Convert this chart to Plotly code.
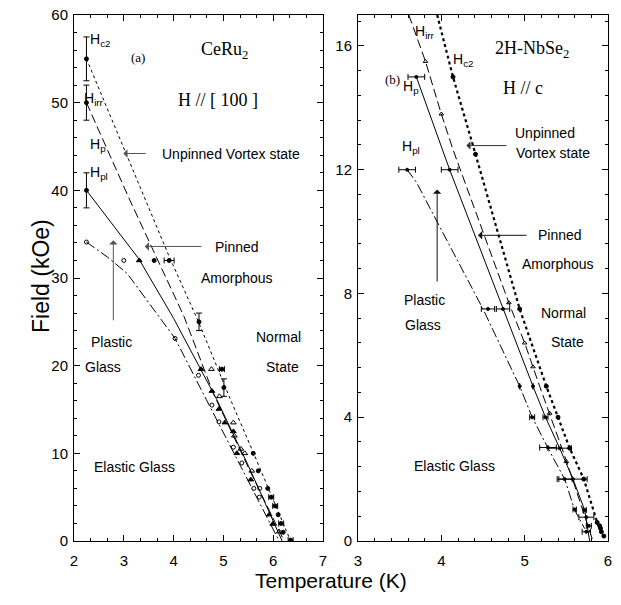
import plotly.graph_objects as go

# ---------------- Panel (a) CeRu2 ----------------
a_hc2_line_T = [2.25, 3.10, 3.90, 4.50, 5.13, 5.60, 6.00, 6.35]
a_hc2_line_H = [55.0, 43.4, 32.6, 25.0, 16.3, 10.1, 4.8, 0.0]
a_irr_line_T = [2.25, 3.12, 4.21, 4.80, 5.50, 6.22]
a_irr_line_H = [50.0, 38.9, 25.6, 16.8, 8.4, 0.0]
a_p_line_T = [2.25, 3.30, 4.00, 4.53, 4.87, 5.50, 6.18]
a_p_line_H = [40.0, 32.2, 25.4, 19.7, 16.1, 8.6, 0.0]
a_pl_line_T = [2.25, 2.67, 3.07, 3.77, 4.03, 4.66, 5.40, 6.12]
a_pl_line_H = [34.1, 32.4, 30.5, 25.2, 23.1, 16.1, 8.0, 0.0]

a_hc2_T = [3.61, 5.60, 5.70, 5.89, 6.10, 6.20]
a_hc2_H = [32.0, 10.0, 8.0, 6.0, 3.0, 1.0]
a_hc2_yerr_T = [2.25, 4.51, 5.01, 2.25, 2.25]
a_hc2_yerr_H = [55.0, 25.0, 17.5, 50.0, 40.0]
a_hc2_yerr = [2.5, 1.0, 1.0, 2.0, 2.0]
a_hc2_xerr_T = [3.91, 4.97, 5.96, 6.04, 6.16, 6.35]
a_hc2_xerr_H = [32.0, 19.6, 5.0, 4.0, 2.0, 0.1]
a_hc2_xerr = [0.1, 0.05, 0.05, 0.05, 0.05, 0.05]
a_otri_T = [4.76, 4.92, 5.20, 5.22, 5.35, 5.43, 5.57, 6.12]
a_otri_H = [19.6, 16.5, 13.5, 12.0, 10.5, 10.0, 8.0, 1.06]
a_ftri_T = [3.31, 4.55, 4.77, 4.91, 5.03, 5.20, 5.27, 5.55, 5.92, 5.99]
a_ftri_H = [32.0, 19.6, 17.1, 15.05, 13.5, 12.5, 10.0, 7.0, 3.0, 1.94]
a_ocirc_T = [2.25, 3.00, 4.03, 4.50, 4.77, 4.91, 5.20, 5.37, 5.61, 5.73, 5.72]
a_ocirc_H = [34.1, 32.0, 23.1, 18.9, 15.5, 13.6, 10.7, 8.9, 6.0, 6.0, 5.0]

# ---------------- Panel (b) 2H-NbSe2 ----------------
b_hc2_line_T = [3.95, 4.14, 4.41, 4.94, 5.26, 5.40, 5.54, 5.71, 5.87, 5.95]
b_hc2_line_H = [17.0, 15.0, 12.5, 7.5, 5.0, 4.0, 3.0, 2.0, 0.6, 0.15]
b_hc2_T = [4.14, 4.41, 4.94, 5.26, 5.40, 5.54, 5.71, 5.87, 5.90, 5.91, 5.92, 5.95]
b_hc2_H = [15.0, 12.5, 7.5, 5.0, 4.0, 3.0, 2.0, 0.6, 0.49, 0.41, 0.30, 0.16]
b_irr_line_T = [3.61, 3.81, 4.00, 4.14, 4.81, 5.00, 5.18, 5.30, 5.50, 5.82]
b_irr_line_H = [17.0, 15.5, 13.8, 12.65, 7.7, 6.4, 5.0, 4.1, 2.6, 0.0]
b_irr_T = [3.81, 4.00, 4.81, 5.00, 5.10, 5.30, 5.50]
b_irr_H = [15.5, 13.8, 7.7, 6.4, 5.63, 4.13, 2.57]
b_p_line_T = [3.70, 4.10, 5.10, 5.25, 5.42, 5.58, 5.72, 5.78]
b_p_line_H = [15.0, 12.0, 5.0, 4.0, 3.0, 2.0, 1.0, 0.0]
b_p_T = [3.70, 4.10, 4.74, 5.10, 5.25, 5.42, 5.58, 5.72]
b_p_H = [15.0, 12.0, 7.5, 5.0, 4.0, 3.0, 2.0, 1.0]
b_p_xerr = [0.10, 0.10, 0.08, 0.0, 0.03, 0.14, 0.17, 0.02]
b_pl_line_T = [3.59, 3.70, 3.98, 4.50, 4.94, 5.09, 5.28, 5.48, 5.60, 5.72]
b_pl_line_H = [12.0, 11.6, 10.16, 7.5, 5.0, 4.0, 3.0, 2.0, 1.0, 0.4]
b_pl_T = [3.59, 4.56, 4.94, 5.09, 5.28, 5.48, 5.60, 5.74, 5.77, 5.74]
b_pl_H = [12.0, 7.5, 5.0, 4.0, 3.02, 2.0, 1.02, 0.77, 0.49, 0.30]
b_pl_xerr = [0.10, 0.08, 0.0, 0.03, 0.10, 0.09, 0.02, 0.09, 0.03, 0.05]

a_xticks = [2, 3, 4, 5, 6, 7]
a_yticks = [0, 10, 20, 30, 40, 50, 60]
b_xticks = [3, 4, 5, 6]
b_yticks = [0, 4, 8, 12, 16]

K = "black"
W, H = 621, 605
fig = go.Figure()

def line(x, y, dash, xa, ya, width=1.0, color=K):
    fig.add_trace(go.Scatter(x=x, y=y, mode="lines", xaxis=xa, yaxis=ya,
                             line=dict(color=color, width=width, dash=dash),
                             showlegend=False, hoverinfo="skip"))

def marks(x, y, sym, size, xa, ya, ex=None, ey=None):
    kw = {}
    if ex is not None:
        kw["error_x"] = dict(type="data", array=ex, visible=True, color=K, thickness=1, width=3)
    if ey is not None:
        kw["error_y"] = dict(type="data", array=ey, visible=True, color=K, thickness=1, width=3)
    fig.add_trace(go.Scatter(x=x, y=y, mode="markers", xaxis=xa, yaxis=ya,
                             marker=dict(symbol=sym, size=size, color=K,
                                         line=dict(color=K, width=1)),
                             showlegend=False, hoverinfo="skip", **kw))

# panel a lines
line(a_hc2_line_T, a_hc2_line_H, "dot", "x", "y", 1.0)
line(a_irr_line_T, a_irr_line_H, "9px,4px", "x", "y")
line(a_p_line_T, a_p_line_H, "solid", "x", "y")
line(a_pl_line_T, a_pl_line_H, "10px,3px,2px,3px", "x", "y")
# panel a markers
marks(a_hc2_T, a_hc2_H, "circle", 4, "x", "y")
marks(a_hc2_yerr_T, a_hc2_yerr_H, "circle", 4, "x", "y", ey=a_hc2_yerr)
marks(a_hc2_xerr_T, a_hc2_xerr_H, "circle", 4, "x", "y", ex=a_hc2_xerr)
marks(a_otri_T, a_otri_H, "triangle-up-open", 5, "x", "y")
marks(a_ftri_T, a_ftri_H, "triangle-up", 5, "x", "y")
marks(a_ocirc_T, a_ocirc_H, "circle-open", 4, "x", "y")

# panel b lines
line(b_hc2_line_T, b_hc2_line_H, "dot", "x2", "y2", 2.2)
line(b_irr_line_T, b_irr_line_H, "9px,4px", "x2", "y2")
line(b_p_line_T, b_p_line_H, "solid", "x2", "y2")
line(b_pl_line_T, b_pl_line_H, "10px,3px,2px,3px", "x2", "y2")
# panel b markers
marks(b_hc2_T, b_hc2_H, "circle", 4, "x2", "y2")
marks(b_irr_T, b_irr_H, "triangle-up-open", 4, "x2", "y2")
marks(b_p_T, b_p_H, "circle", 3, "x2", "y2", ex=b_p_xerr)
marks(b_pl_T, b_pl_H, "circle", 3, "x2", "y2", ex=b_pl_xerr)

TF = "Liberation Sans, Arial, sans-serif"
SF = "Liberation Serif, Times New Roman, serif"

def px_x(a, b):
    return [a / W, b / W]

def px_y(top, bottom):
    return [1 - bottom / H, 1 - top / H]

def ax_common(rng, tickvals, minor_dtick, domain, anchor, standoff):
    return dict(range=rng, domain=domain, anchor=anchor, tickvals=tickvals,
                ticks="inside", ticklen=6, tickwidth=1, tickcolor=K,
                showline=True, linecolor=K, linewidth=1, mirror="allticks",
                showgrid=False, zeroline=False, automargin=False,
                ticklabelstandoff=standoff, ticklabeloverflow="allow",
                tickfont=dict(family=TF, size=15, color=K),
                minor=dict(dtick=minor_dtick, ticks="inside", ticklen=3, tickcolor=K, showgrid=False))

fig.update_layout(
    template="none",
    width=W, height=H, margin=dict(l=0, r=0, t=0, b=0, pad=0, autoexpand=False),
    paper_bgcolor="white", plot_bgcolor="white", showlegend=False,
    xaxis=ax_common([2, 7], a_xticks, 1/3, px_x(74, 323), "y", 6),
    yaxis=ax_common([0, 60], a_yticks, 2, px_y(15, 541), "x", 2),
    xaxis2=ax_common([3, 6], b_xticks, 0.2, px_x(358, 608), "y2", 6),
    yaxis2=ax_common([0, 17], b_yticks, 0.8, px_y(15, 541), "x2", 2),
)

ann = []
def txt(x, y, s, xa, ya, font=TF, size=14, xanchor="center"):
    ann.append(dict(x=x, y=y, xref=xa, yref=ya, text=s, showarrow=False,
                    xanchor=xanchor, yanchor="middle",
                    font=dict(family=font, size=size, color=K)))

def arrow(x0, y0, x1, y1, xa, ya, color="#222222"):
    ann.append(dict(x=x1, y=y1, ax=x0, ay=y0, xref=xa, yref=ya, axref=xa, ayref=ya,
                    text="", showarrow=True, arrowhead=1, arrowsize=1.4,
                    arrowwidth=1, arrowcolor=color))

# panel a texts
txt(2.28, 57.1, "H<sub>c2</sub>", "x", "y", xanchor="left")
txt(3.29, 55.1, "(a)", "x", "y", font=SF, size=13)
txt(5.03, 56.0, "CeRu<sub>2</sub>", "x", "y", font=SF, size=18)
txt(4.89, 50.3, "H // [ 100 ]", "x", "y", font=SF, size=18)
txt(2.17, 50.4, "H<sub>irr</sub>", "x", "y", xanchor="left")
txt(2.29, 45.2, "H<sub>p</sub>", "x", "y", xanchor="left")
txt(3.73, 44.2, "Unpinned Vortex state", "x", "y", xanchor="left")
txt(2.28, 42.0, "H<sub>pl</sub>", "x", "y", xanchor="left")
txt(5.27, 33.5, "Pinned", "x", "y")
txt(5.27, 30.0, "Amorphous", "x", "y")
txt(2.76, 22.7, "Plastic", "x", "y")
txt(2.58, 19.8, "Glass", "x", "y")
txt(6.10, 23.3, "Normal", "x", "y")
txt(6.18, 19.8, "State", "x", "y")
txt(3.22, 8.4, "Elastic Glass", "x", "y")
arrow(3.47, 44.2, 2.99, 44.2, "x", "y", "#555555")
arrow(4.59, 33.6, 3.42, 33.6, "x", "y", "#555555")
arrow(2.79, 25.0, 2.79, 34.3, "x", "y", "#555555")

# panel b texts
txt(3.66, 16.45, "H<sub>irr</sub>", "x2", "y2", xanchor="left")
txt(5.09, 15.87, "2H-NbSe<sub>2</sub>", "x2", "y2", font=SF, size=18)
txt(4.12, 15.55, "H<sub>c2</sub>", "x2", "y2", xanchor="left")
txt(3.41, 14.93, "(b)", "x2", "y2", font=SF, size=13)
txt(3.52, 14.67, "H<sub>p</sub>", "x2", "y2", xanchor="left")
txt(4.98, 14.64, "H // c", "x2", "y2", font=SF, size=18)
txt(3.50, 12.73, "H<sub>pl</sub>", "x2", "y2", xanchor="left")
txt(5.24, 13.19, "Unpinned", "x2", "y2")
txt(5.34, 12.54, "Vortex state", "x2", "y2")
txt(5.42, 9.89, "Pinned", "x2", "y2")
txt(5.40, 8.95, "Amorphous", "x2", "y2")
txt(3.80, 7.79, "Plastic", "x2", "y2")
txt(3.78, 6.98, "Glass", "x2", "y2")
txt(5.46, 7.37, "Normal", "x2", "y2")
txt(5.51, 6.43, "State", "x2", "y2")
txt(4.16, 2.42, "Elastic Glass", "x2", "y2")
arrow(4.80, 12.78, 4.30, 12.78, "x2", "y2", "#333333")
arrow(5.04, 9.88, 4.44, 9.88, "x2", "y2", "#111111")
arrow(3.95, 8.34, 3.95, 11.36, "x2", "y2", "#111111")

# axis titles
ann.append(dict(x=26 / W, y=1 - 276 / H, xref="paper", yref="paper",
                text="Field (kOe)", showarrow=False, textangle=-90,
                font=dict(family=TF, size=23, color=K)))
ann.append(dict(x=331 / W, y=1 - 594 / H, xref="paper", yref="paper",
                text="Temperature (K)", showarrow=False,
                font=dict(family=TF, size=21, color=K)))

fig.update_layout(annotations=ann)
fig.write_html("out.html", config={"displayModeBar": False},
               post_script="document.body.style.margin='0';document.body.style.overflow='hidden';")
